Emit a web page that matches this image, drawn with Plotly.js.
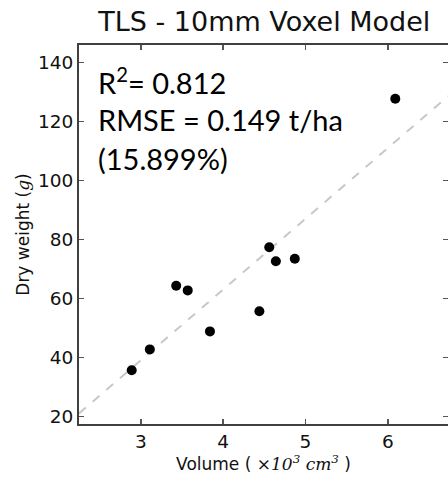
<!DOCTYPE html>
<html>
<head>
<meta charset="utf-8">
<script src="https://cdn.plot.ly/plotly-3.0.1.min.js"></script>
<style>html,body{margin:0;padding:0;background:#fff;}#chart{width:448px;height:477px;}</style>
</head>
<body>
<div id="chart"></div>
<script>
// Data
var volume = [2.89, 3.11, 3.43, 3.57, 3.84, 4.44, 4.56, 4.64, 4.87, 6.09];
var dryWeight = [35.6, 42.7, 64.3, 62.7, 48.8, 55.6, 77.3, 72.6, 73.4, 127.7];
var fitX = [2.25, 6.73];
var fitY = [21.0, 128.5];
var xTicks = [3, 4, 5, 6];
var yTicks = [20, 40, 60, 80, 100, 120, 140];
var statLines = ["R<sup>2</sup>= 0.812", "RMSE = 0.149 t/ha", "(15.899%)"];

var traces = [
  {x: fitX, y: fitY, mode: 'lines', type: 'scatter',
   line: {color: '#c8c8c8', width: 2, dash: 'dash'}, hoverinfo: 'skip'},
  {x: volume, y: dryWeight, mode: 'markers', type: 'scatter',
   marker: {color: '#000', size: 10}}
];

var statY = [0.904, 0.803, 0.701];
var annotations = statLines.map(function (t, i) {
  return {text: t, xref: 'paper', yref: 'paper', x: 0.045, y: statY[i],
          xanchor: 'left', yanchor: 'middle', showarrow: false,
          font: {family: 'Lato, "Open Sans", sans-serif', size: 29, color: '#000'}};
});

var axisCommon = {
  showgrid: false, zeroline: false, showline: true, linecolor: '#404040', linewidth: 2,
  mirror: 'ticks', ticks: 'inside', ticklen: 5, tickwidth: 1.5, tickcolor: '#555',
  tickfont: {family: '"DejaVu Sans", sans-serif', size: 18.5, color: '#111'}
};

var layout = {
  width: 448, height: 477,
  margin: {l: 79, r: 0, t: 45, b: 53, pad: 0},
  paper_bgcolor: '#fff', plot_bgcolor: '#fff',
  showlegend: false,
  title: {text: 'TLS - 10mm Voxel Model', x: 0.59, xanchor: 'center', y: 0.955, yanchor: 'middle',
          font: {family: '"DejaVu Sans", sans-serif', size: 27, color: '#111'}},
  xaxis: Object.assign({}, axisCommon, {
    range: [2.25, 6.73], tickvals: xTicks, ticktext: xTicks.map(String),
    title: {text: 'Volume ( <span style="font-family:\'DejaVu Serif\',serif;font-style:italic">×10<sup>3</sup> cm<sup>3</sup></span> )',
            standoff: 6, font: {family: '"DejaVu Sans", sans-serif', size: 17, color: '#111'}}
  }),
  yaxis: Object.assign({}, axisCommon, {
    range: [17.4, 145.9], tickvals: yTicks, ticktext: yTicks.map(String),
    title: {text: 'Dry weight (<span style="font-family:\'DejaVu Serif\',serif;font-style:italic">g</span>)',
            standoff: 4, font: {family: '"DejaVu Sans", sans-serif', size: 17, color: '#111'}}
  }),
  annotations: annotations
};

Plotly.newPlot('chart', traces, layout, {displayModeBar: false, staticPlot: true});
</script>
</body>
</html>
